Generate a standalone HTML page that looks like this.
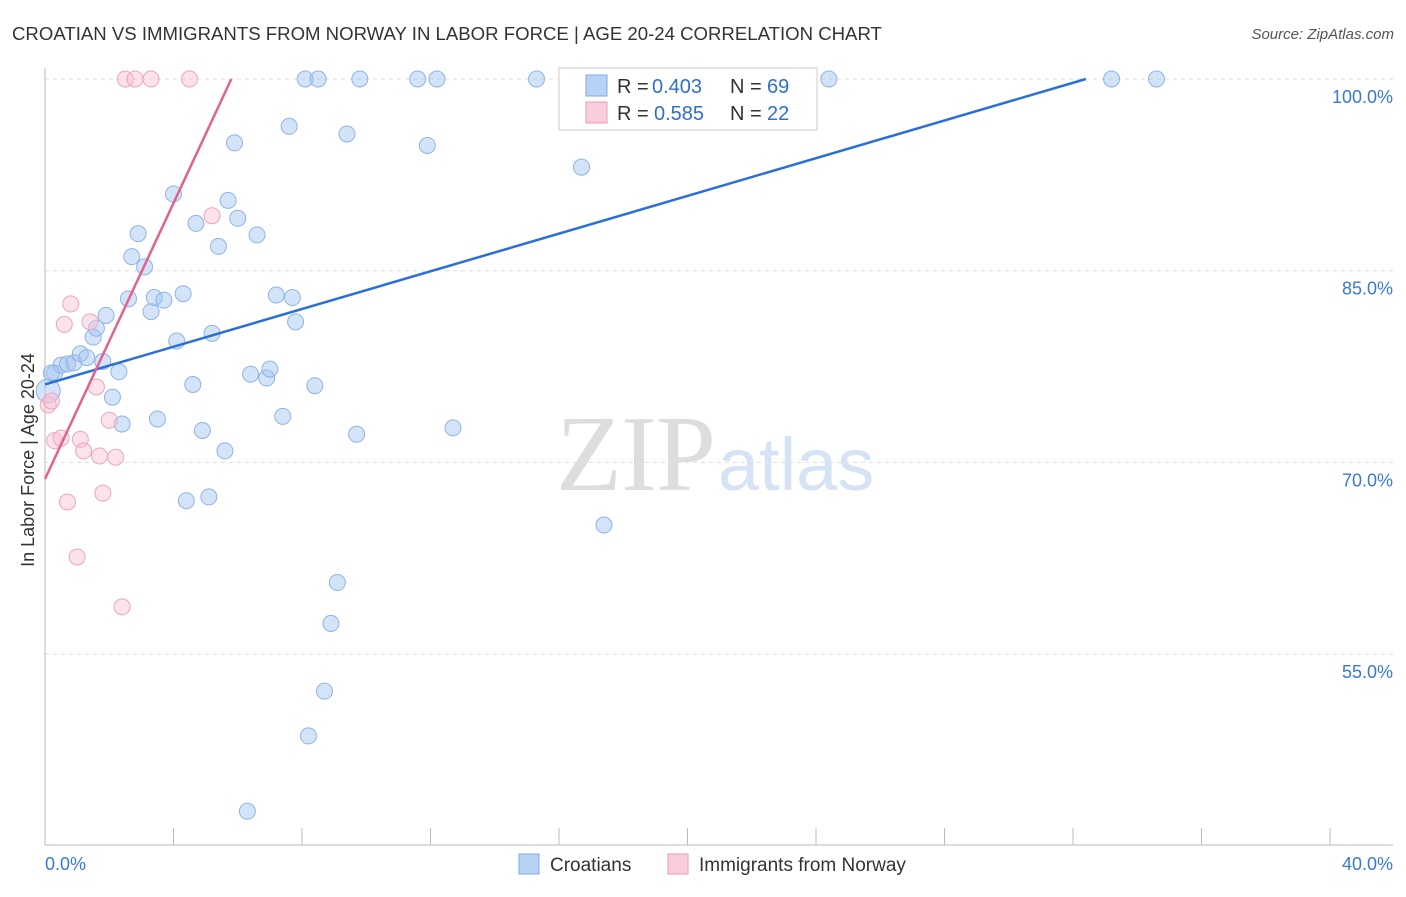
<!DOCTYPE html>
<html><head><meta charset="utf-8"><style>
body{margin:0;background:#fff;font-family:"Liberation Sans",sans-serif}
</style></head><body>
<svg width="1406" height="892" xmlns="http://www.w3.org/2000/svg" font-family="Liberation Sans, sans-serif">
<text x="12" y="40" font-size="18.6" fill="#333">CROATIAN VS IMMIGRANTS FROM NORWAY IN LABOR FORCE | AGE 20-24 CORRELATION CHART</text>
<text x="1394" y="39" font-size="15" fill="#555" font-style="italic" text-anchor="end">Source: ZipAtlas.com</text>
<g id="grid"></g>
<text x="716" y="490" font-size="108" fill="#ddd" font-family="Liberation Serif, serif" text-anchor="end" textLength="160">ZIP</text>
<text x="718" y="490" font-size="74" fill="#d6e3f4">atlas</text>
<text x="34" y="460" font-size="18" fill="#333" text-anchor="middle" transform="rotate(-90 34 460)">In Labor Force | Age 20-24</text>
<g id="pts"></g>
<g id="lines"></g>
<g>
<rect x="559" y="68" width="258" height="62" fill="#fff" stroke="#ccc"/>
<rect x="586" y="75" width="21" height="21" fill="#b8d2f6" stroke="#7fa9e6"/>
<text x="617" y="93" font-size="20" fill="#333">R =</text>
<text x="652" y="93" font-size="20" fill="#2f6fcf">0.403</text>
<text x="730" y="93" font-size="20" fill="#333">N =</text>
<text x="767" y="93" font-size="20" fill="#2f6fcf">69</text>
<rect x="586" y="102" width="21" height="21" fill="#f9cdd9" stroke="#ee9ab2"/>
<text x="617" y="120" font-size="20" fill="#333">R =</text>
<text x="654" y="120" font-size="20" fill="#2f6fcf">0.585</text>
<text x="730" y="120" font-size="20" fill="#333">N =</text>
<text x="767" y="120" font-size="20" fill="#2f6fcf">22</text>
</g>
<g>
<rect x="519" y="854" width="20" height="20" fill="#b8d2f6" stroke="#7fa9e6"/>
<text x="550" y="871" font-size="19" fill="#333">Croatians</text>
<rect x="668" y="854" width="20" height="20" fill="#f9cdd9" stroke="#ee9ab2"/>
<text x="699" y="871" font-size="19" fill="#333">Immigrants from Norway</text>
</g>
<text x="45" y="870" font-size="18" fill="#3a78d6">0.0%</text>
<text x="1393" y="870" font-size="18" fill="#3a78d6" text-anchor="end">40.0%</text>
</svg>
<script>
const yTicks=[100,85,70,55];
const blueX=[0.1,0.3,0.5,0.7,0.9,1.1,1.3,1.5,1.6,1.8,1.9,2.1,2.3,2.4,2.6,2.7,2.9,3.1,3.3,3.4,3.5,3.7,4.0,4.1,4.3,4.4,4.6,4.7,4.9,5.1,5.2,5.4,5.6,5.7,5.9,6.0,6.4,6.6,6.9,7.0,7.2,7.4,7.6,7.7,7.8,8.1,8.2,8.4,8.5,8.7,8.9,9.1,9.4,9.7,9.8,11.6,11.9,12.2,12.7,15.3,16.7,17.4,6.3,22.5,23.3,24.4,33.2,34.6,0.2];
const blueY=[75.6,77.0,77.6,77.7,77.8,78.5,78.2,79.8,80.5,77.9,81.5,75.1,77.1,73.0,82.8,86.1,87.9,85.3,81.8,82.9,73.4,82.7,91.0,79.5,83.2,67.0,76.1,88.7,72.5,67.3,80.1,86.9,70.9,90.5,95.0,89.1,76.9,87.8,76.6,77.3,83.1,73.6,96.3,82.9,81.0,100,48.6,76.0,100,52.1,57.4,60.6,95.7,72.2,100,100,94.8,100,72.7,100,93.1,65.1,42.7,100,100,100,100,100,77.0];
const pinkX=[0.1,0.2,0.3,0.5,0.6,0.7,0.8,1.0,1.1,1.2,1.4,1.6,1.7,1.8,2.0,2.2,2.4,2.5,2.8,3.3,4.5,5.2];
const pinkY=[74.5,74.8,71.7,71.9,80.8,66.9,82.4,62.6,71.8,70.9,81.0,75.9,70.5,67.6,73.3,70.4,58.7,100,100,100,100,89.3];
const blueLine=[[0,76.1],[32.4,100]], pinkLine=[[0,68.7],[5.8,100]];
const NS="http://www.w3.org/2000/svg";
const X=v=>45+v*32.125, Y=v=>79+(100-v)*12.78;
const grid=document.getElementById('grid');
function mk(t,a,p){const e=document.createElementNS(NS,t);for(const k in a)e.setAttribute(k,a[k]);p.appendChild(e);return e;}
yTicks.forEach(v=>{
 const l=mk('line',{x1:45,x2:1393,y1:Y(v),y2:Y(v),stroke:'#ddd','stroke-dasharray':'4,4'},grid);
 
 
 const t=mk('text',{x:1393,y:Y(v)+24,'font-size':18,fill:'#3a78d6','text-anchor':'end'},grid);t.textContent=v.toFixed(1)+'%';
 
 
});
mk('line',{x1:45,x2:45,y1:68,y2:845,stroke:'#bbb'},grid);
mk('line',{x1:45,x2:1393,y1:845,y2:845,stroke:'#bbb'},grid);
for(let i=0;i<=10;i++){const t=mk('line',{x1:X(i*4),x2:X(i*4),y1:828,y2:845,stroke:'#bbb'},grid);
 
 }
const pts=document.getElementById('pts');
blueX.forEach((x,i)=>{const c=mk('circle',{cx:X(x),cy:Y(blueY[i]),r:i===0?12:8,fill:'rgba(160,195,240,0.45)',stroke:'#8fb3e6','stroke-width':1},pts);
 
 });
pinkX.forEach((x,i)=>{const c=mk('circle',{cx:X(x),cy:Y(pinkY[i]),r:8,fill:'rgba(248,190,210,0.45)',stroke:'#eea5bb','stroke-width':1},pts);
 
 });
const lg=document.getElementById('lines');
const b=mk('line',{x1:X(blueLine[0][0]),y1:Y(blueLine[0][1]),x2:X(blueLine[1][0]),y2:Y(blueLine[1][1]),stroke:'#2a6fd6','stroke-width':2.5},lg);


const p=mk('line',{x1:X(pinkLine[0][0]),y1:Y(pinkLine[0][1]),x2:X(pinkLine[1][0]),y2:Y(pinkLine[1][1]),stroke:'#e2628c','stroke-width':2.5},lg);


</script>
</body></html>
